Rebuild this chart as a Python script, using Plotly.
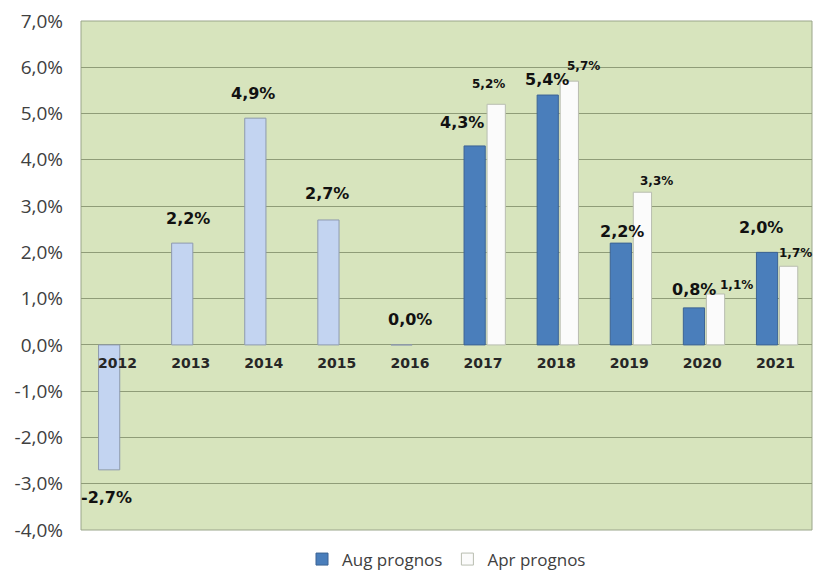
import plotly.graph_objects as go

years = ["2012", "2013", "2014", "2015", "2016", "2017", "2018", "2019", "2020", "2021"]
hist_years = ["2012", "2013", "2014", "2015", "2016"]
hist_values = [-2.7, 2.2, 4.9, 2.7, 0.0]
fc_years = ["2017", "2018", "2019", "2020", "2021"]
aug_values = [4.3, 5.4, 2.2, 0.8, 2.0]
apr_values = [5.2, 5.7, 3.3, 1.1, 1.7]
y_ticks = [-4, -3, -2, -1, 0, 1, 2, 3, 4, 5, 6, 7]

# label offsets (px) relative to category centre / bar end, as in the original
hist_xshift = [-11, -3, -11, -10, 0]
hist_yshift = [-16, 13, 13, 15, 14]
aug_xshift = [-21, -9, -7, -8, -14]
aug_yshift = [12, 4, 0, 7, 13]
apr_xshift = [5, 27, 27, 34, 20]
apr_yshift = [11, 6, 2, 0, 4]

def fmt(v):
    return f"{v:.1f}".replace(".", ",") + "%"

def pos(labels):
    return [years.index(y) for y in labels]

fig = go.Figure()
fig.add_trace(go.Bar(
    x=pos(hist_years), y=hist_values, offset=-0.26, width=0.29,
    marker=dict(color="#c3d4f1", line=dict(color="#8e9aae", width=1)),
    showlegend=False, hoverinfo="skip"))
fig.add_trace(go.Bar(
    x=pos(fc_years), y=aug_values, name="Aug prognos", offset=-0.26, width=0.29,
    marker=dict(color="#4a7ebb", line=dict(color="#3c6394", width=1))))
fig.add_trace(go.Bar(
    x=pos(fc_years), y=apr_values, name="Apr prognos", offset=0.055, width=0.25,
    marker=dict(color="#fbfbfb", line=dict(color="#b9bdb0", width=1))))

annotations = []
big = dict(family="DejaVu Sans", size=16, color="#111111", weight="bold")
small = dict(family="DejaVu Sans", size=12, color="#111111", weight="bold")
for xi, v, xs, ys in zip(pos(hist_years), hist_values, hist_xshift, hist_yshift):
    annotations.append(dict(x=xi, y=v, text=fmt(v), showarrow=False, font=big,
                            xanchor="center", yanchor="top" if v < 0 else "bottom",
                            xshift=xs, yshift=ys))
for xi, v, xs, ys in zip(pos(fc_years), aug_values, aug_xshift, aug_yshift):
    annotations.append(dict(x=xi, y=v, text=fmt(v), showarrow=False, font=big,
                            xanchor="center", yanchor="bottom", xshift=xs, yshift=ys))
for xi, v, xs, ys in zip(pos(fc_years), apr_values, apr_xshift, apr_yshift):
    annotations.append(dict(x=xi, y=v, text=fmt(v), showarrow=False, font=small,
                            xanchor="center", yanchor="bottom", xshift=xs, yshift=ys))

fig.update_layout(
    width=816, height=581,
    margin=dict(l=81, r=4, t=21, b=41),
    paper_bgcolor="white", plot_bgcolor="#d7e4bd",
    barmode="overlay",
    separators=", ",
    xaxis=dict(range=[-0.5, 9.5], tickvals=list(range(len(years))), ticktext=years,
               anchor="free", position=4 / 11,
               showgrid=False, showline=False, zeroline=False, ticks="", ticklabelstandoff=8,
               tickfont=dict(family="DejaVu Sans", size=14, color="#262626", weight="bold")),
    yaxis=dict(range=[-4, 7], tickvals=y_ticks, ticktext=[fmt(v) for v in y_ticks],
               showgrid=True, gridcolor="#8f9c78", gridwidth=1, zeroline=False,
               ticks="", ticklabelstandoff=17,
               tickfont=dict(family="Open Sans", size=19, color="#404040")),
    legend=dict(orientation="h", x=0.5, xanchor="center", y=-0.058, yanchor="middle",
                font=dict(family="Open Sans", size=17, color="#404040"),
                itemwidth=30, traceorder="normal"),
    annotations=annotations,
    shapes=[dict(type="rect", xref="paper", yref="paper", x0=0, x1=1, y0=0, y1=1,
                 line=dict(color="#9aa58a", width=1), layer="below")],
)
fig.write_html("out.html")
